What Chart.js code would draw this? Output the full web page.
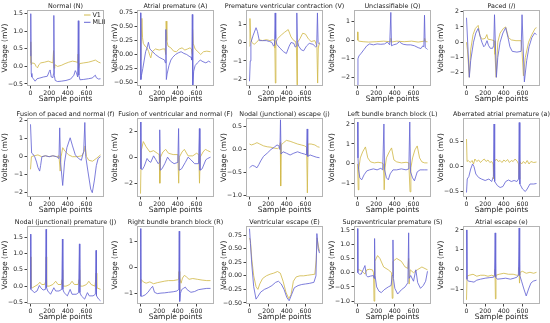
<!DOCTYPE html>
<html>
<head>
<meta charset="utf-8">
<script src="https://cdn.jsdelivr.net/npm/chart.js@4.4.1/dist/chart.umd.min.js"></script>
<style>
html, body { margin: 0; padding: 0; background: #fff; overflow: hidden; }
#wrap { position: relative; width: 550px; height: 323px; }
canvas { position: absolute; }
</style>
</head>
<body>
<div id="wrap"></div>
<script>
// ECG beat classes, one panel each
const titles = ['Normal (N)', 'Atrial premature (A)', 'Premature ventricular contraction (V)', 'Unclassifiable (Q)', 'Paced (/)',
  'Fusion of paced and normal (f)', 'Fusion of ventricular and normal (F)', 'Nodal (junctional) escape (j)', 'Left bundle branch block (L)', 'Aberrated atrial premature (a)',
  'Nodal (junctional) premature (J)', 'Right bundle branch block (R)', 'Ventricular escape (E)', 'Supraventricular premature (S)', 'Atrial escape (e)'];

const seriesNames = ['V1', 'MLII'];
const xTicks = [0, 200, 400, 600];
const yTicks = [[-0.5, 0, 0.5, 1, 1.5], [-0.5, -0.25, 0, 0.25, 0.5, 0.75], [-2, -1, 0, 1], [-2, -1, 0, 1], [-2, -1, 0, 1, 2],
  [-2, -1, 0, 1, 2], [-2, 0, 2], [-1, -0.5, 0, 0.5], [-1, 0, 1, 2], [-0.5, 0, 0.5],
  [-0.5, 0, 0.5, 1, 1.5], [-1, 0, 1], [-0.5, -0.25, 0, 0.25, 0.5, 0.75], [-1, -0.5, 0, 0.5, 1, 1.5], [-1, 0, 1, 2]];
const yDecimals = [1, 2, 0, 0, 0, 0, 0, 1, 0, 1, 1, 0, 2, 1, 0];
const yMin = [-0.557, -0.566, -2.36, -2.47, -2.87, -2.24, -3.06, -1.04, -1.66, -0.61, -0.55, -1.4, -0.52, -1.1, -1.76];
const yMax = [1.605, 0.80, 1.76, 1.63, 2.11, 2.15, 3.01, 0.69, 2.3, 0.97, 1.85, 1.6, 0.92, 1.64, 2.2];

// [sample, mV] pairs
const nV1 = [[0,0.1],[3,0.7],[8,0.05],[20,0.1],[45,0.08],[60,0.0],[75,-0.04],[90,0.05],[110,0.1],[150,0.12],[190,0.15],[220,0.12],[240,0.1],[247,0.45],[252,-0.05],[260,0.05],[290,0.0],[330,0.03],[370,0.08],[410,0.12],[450,0.15],[490,0.13],[505,0.1],[510,0.35],[515,-0.05],[525,0.08],[570,0.1],[620,0.12],[660,0.15],[695,0.18],[730,0.12],[750,0.1]];
const nML = [[0,0.3],[3,1.5],[8,-0.2],[15,-0.3],[30,-0.35],[50,-0.42],[70,-0.35],[100,-0.33],[140,-0.3],[180,-0.28],[200,-0.15],[210,-0.1],[222,-0.3],[240,-0.32],[247,-0.2],[250,1.45],[255,-0.25],[265,-0.4],[290,-0.43],[330,-0.42],[380,-0.4],[430,-0.36],[465,-0.25],[480,-0.12],[492,-0.18],[505,-0.3],[512,1.3],[518,-0.25],[530,-0.38],[570,-0.37],[620,-0.35],[660,-0.33],[695,-0.25],[705,-0.32],[730,-0.36],[750,-0.35]];

const aV1 = [[0,-0.1],[5,0.1],[15,0.65],[22,0.3],[30,0.2],[50,0.15],[70,0.12],[88,0.05],[100,-0.02],[110,-0.06],[125,0.05],[160,0.1],[200,0.08],[240,0.1],[262,0.1],[270,0.0],[275,0.6],[282,0.25],[295,0.15],[325,0.12],[355,0.06],[385,0.05],[415,0.1],[445,0.12],[475,0.08],[505,0.1],[530,0.12],[546,0.1],[553,0.0],[558,0.45],[565,0.2],[585,0.1],[615,0.05],[645,0.0],[675,0.05],[710,0.06],[750,0.05]];
const aML = [[0,0.75],[4,-0.45],[10,-0.38],[25,-0.25],[40,-0.1],[55,0.05],[70,0.12],[85,0.22],[100,0.1],[130,0.05],[160,0.0],[200,-0.05],[235,-0.08],[258,-0.1],[266,-0.15],[272,0.45],[277,-0.45],[285,-0.35],[305,-0.2],[325,-0.1],[345,-0.05],[375,0.0],[405,0.03],[435,0.05],[465,0.02],[495,0.0],[520,-0.03],[542,-0.05],[550,-0.1],[555,0.72],[560,-0.55],[570,-0.3],[585,-0.2],[610,-0.15],[640,-0.1],[670,-0.13],[700,-0.15],[730,-0.12],[750,-0.14]];

const vV1 = [[0,-0.2],[5,1.3],[12,0.3],[25,0.0],[50,-0.1],[75,0.0],[100,0.15],[140,0.1],[180,0.15],[220,0.1],[250,0.15],[268,0.1],[272,-0.3],[277,-2.2],[283,0.0],[300,0.2],[340,0.4],[375,0.55],[415,0.7],[445,0.3],[475,0.1],[495,0.05],[503,-0.3],[509,-2.3],[514,0.0],[540,0.2],[570,0.5],[600,0.45],[630,0.2],[660,0.05],[700,0.1],[722,-0.2],[730,-2.2],[737,-0.3],[750,0.0]];
const vML = [[0,-2.1],[8,-1.0],[15,0.0],[40,0.4],[70,0.8],[85,0.6],[105,0.1],[140,0.1],[180,0.1],[215,0.05],[240,0.0],[258,-0.2],[268,-0.15],[275,1.6],[281,0.2],[292,-0.1],[325,-0.3],[365,-0.5],[395,-0.6],[425,-0.2],[445,0.0],[475,-0.05],[490,-0.25],[500,-0.2],[507,1.6],[513,0.1],[527,-0.2],[555,-0.4],[580,-0.45],[610,-0.2],[640,-0.05],[680,-0.1],[710,-0.25],[720,-0.2],[728,1.6],[735,0.0],[750,-0.1]];

const qV1 = [[0,0.45],[4,0.0],[15,-0.05],[60,-0.08],[120,-0.1],[200,-0.08],[280,-0.05],[350,-0.08],[358,0.1],[364,-0.1],[420,-0.05],[500,-0.08],[580,-0.05],[650,-0.1],[716,-0.05],[720,0.1],[726,-0.08],[750,-0.08]];
const qML = [[0,-2.5],[5,-1.0],[15,-0.85],[40,-0.7],[70,-0.5],[100,-0.3],[130,-0.2],[170,-0.25],[210,-0.2],[250,-0.22],[290,-0.2],[320,-0.1],[345,-0.25],[357,1.5],[364,-0.3],[385,-0.25],[420,-0.2],[450,-0.08],[465,-0.15],[490,-0.22],[530,-0.25],[570,-0.25],[610,-0.3],[650,-0.4],[680,-0.45],[700,-0.3],[711,-0.35],[718,1.35],[726,-0.4],[740,-0.45],[750,-0.5]];

const pV1 = [[0,0.0],[10,-0.5],[30,-2.3],[45,-0.5],[70,0.5],[95,0.9],[125,1.1],[145,0.4],[170,0.2],[200,0.25],[218,0.5],[230,0.2],[270,0.15],[295,0.1],[305,-0.8],[318,-2.3],[335,0.0],[360,0.6],[395,0.9],[420,1.0],[450,0.3],[480,0.15],[530,0.1],[585,0.1],[595,-0.6],[610,-2.2],[630,-1.0],[665,0.0],[700,0.5],[735,0.9],[750,0.95]];
const pML = [[0,1.6],[30,-2.3],[45,-1.2],[75,0.0],[100,0.6],[125,0.9],[150,0.3],[165,0.0],[185,-0.3],[200,-0.2],[220,0.1],[235,-0.2],[255,-0.4],[280,-0.4],[292,-0.2],[300,1.8],[320,-2.3],[335,-1.0],[360,0.0],[390,0.6],[420,0.95],[445,0.3],[465,-0.3],[490,-0.6],[540,-0.65],[585,-0.6],[595,1.8],[620,-2.6],[645,-1.2],[670,-0.3],[700,0.3],[730,0.6],[750,0.5]];

const fV1 = [[0,-0.7],[10,0.0],[40,0.05],[80,0.1],[120,0.0],[160,0.05],[200,0.0],[240,0.05],[280,0.0],[305,0.05],[318,-0.8],[328,0.0],[345,0.5],[370,0.3],[410,0.1],[450,0.0],[500,0.0],[550,0.05],[575,0.3],[585,0.6],[600,0.0],[625,-0.2],[665,-0.25],[705,-0.1],[750,0.1]];
const fML = [[0,1.8],[12,0.2],[25,0.15],[45,0.0],[65,-0.3],[80,-0.6],[98,-0.8],[108,-0.5],[122,0.0],[160,0.05],[200,0.0],[240,0.05],[280,0.0],[305,-0.1],[313,1.6],[322,-0.3],[345,-1.6],[365,-0.3],[390,0.5],[425,1.05],[450,0.6],[480,0.1],[515,-0.1],[545,-0.2],[570,0.3],[582,1.9],[592,0.0],[615,-0.8],[645,-1.8],[662,-2.0],[685,-1.3],[705,-0.5],[725,-0.1],[750,0.0]];

const FV1 = [[0,-2.8],[8,0.5],[30,1.2],[60,0.8],[100,0.4],[140,0.5],[180,0.3],[200,0.2],[207,-2.0],[214,0.0],[240,0.4],[270,0.6],[300,0.3],[350,0.2],[400,0.2],[409,-2.0],[416,0.0],[445,0.4],[470,0.6],[510,0.1],[560,0.1],[600,0.3],[625,0.2],[632,-2.0],[640,0.0],[670,0.4],[695,0.6],[720,0.5],[750,0.4]];
const FML = [[0,2.7],[5,-0.9],[20,-0.95],[40,-0.7],[70,-0.1],[90,-0.3],[110,-0.4],[140,0.1],[165,-0.2],[190,-0.5],[200,-0.4],[206,2.1],[212,-1.0],[230,-0.9],[260,-0.5],[290,0.0],[320,-0.3],[360,-0.5],[400,-0.4],[408,2.2],[414,-1.0],[440,-0.9],[480,-0.4],[510,0.0],[540,-0.2],[580,-0.5],[622,-0.5],[631,2.2],[637,-1.0],[660,-0.9],[700,-0.2],[720,-0.1],[750,0.0]];

const jV1 = [[0,0.12],[20,0.1],[50,0.12],[80,0.15],[110,0.12],[150,0.08],[190,0.06],[230,0.05],[265,0.03],[300,0.02],[322,0.05],[330,0.15],[334,-0.8],[340,0.1],[365,0.15],[395,0.2],[435,0.18],[475,0.15],[515,0.12],[555,0.1],[590,0.08],[612,0.05],[620,-0.95],[627,0.12],[660,0.12],[700,0.1],[730,0.06],[750,0.05]];
const jML = [[0,-0.4],[10,-0.38],[30,-0.35],[50,-0.36],[80,-0.4],[100,-0.33],[120,-0.25],[150,-0.15],[190,-0.08],[230,0.0],[265,0.05],[295,0.1],[315,0.08],[326,0.0],[332,0.65],[338,-0.1],[360,-0.05],[395,-0.08],[435,-0.12],[475,-0.08],[515,-0.05],[555,-0.08],[590,-0.1],[610,-0.12],[618,0.45],[624,-0.15],[650,-0.12],[690,-0.15],[720,-0.17],[750,-0.18]];

const LV1 = [[0,0.0],[8,-1.3],[15,-0.2],[30,0.3],[55,0.6],[85,0.85],[110,0.3],[140,0.1],[180,0.05],[220,0.08],[260,0.05],[278,0.0],[286,-1.3],[295,-0.2],[310,0.3],[340,0.6],[365,0.8],[390,0.2],[420,0.1],[470,0.05],[520,0.08],[550,0.05],[563,-1.4],[572,-0.2],[590,0.3],[615,0.7],[640,0.9],[665,0.3],[690,0.1],[720,0.05],[750,0.05]];
const LML = [[0,2.1],[5,0.3],[12,-0.3],[25,-0.7],[45,-0.8],[70,-0.55],[100,-0.35],[130,-0.3],[170,-0.25],[210,-0.3],[250,-0.22],[270,-0.3],[283,2.0],[290,-0.3],[310,-0.7],[330,-0.8],[350,-0.5],[380,-0.3],[420,-0.3],[470,-0.25],[520,-0.3],[550,-0.25],[560,2.1],[568,-0.4],[590,-0.7],[610,-0.85],[640,-0.4],[670,-0.3],[720,-0.3],[750,-0.3]];

const abV1 = [[0,0.55],[6,0.1],[20,0.12],[40,0.08],[60,0.12],[75,0.05],[90,0.15],[110,0.1],[130,0.13],[150,0.08],[170,0.12],[190,0.15],[210,0.1],[230,0.13],[250,0.08],[270,0.1],[285,0.05],[292,-0.25],[300,0.1],[320,0.15],[340,0.1],[360,0.12],[380,0.08],[400,0.13],[420,0.1],[440,0.14],[460,0.08],[480,0.12],[500,0.1],[520,0.15],[545,0.1],[558,0.05],[563,-0.25],[572,0.1],[590,0.05],[610,0.1],[630,0.06],[650,0.12],[670,0.05],[690,0.1],[720,0.08],[750,0.09]];
const abML = [[0,-0.52],[8,-0.25],[25,-0.2],[45,-0.05],[65,0.05],[80,0.0],[100,-0.15],[130,-0.22],[160,-0.25],[200,-0.28],[240,-0.25],[270,-0.3],[288,-0.2],[295,0.85],[302,-0.3],[330,-0.38],[360,-0.42],[390,-0.4],[420,-0.3],[450,-0.27],[480,-0.3],[510,-0.28],[540,-0.3],[558,-0.25],[565,0.88],[572,-0.35],[600,-0.45],[630,-0.5],[650,-0.45],[680,-0.35],[720,-0.35],[750,-0.34]];

const JV1 = [[0,0.9],[5,-0.05],[20,-0.05],[50,0.0],[80,0.05],[100,0.12],[120,0.05],[150,0.05],[164,0.15],[168,0.9],[173,0.0],[200,0.0],[240,0.05],[270,0.15],[295,0.05],[330,0.05],[339,0.2],[343,0.5],[348,0.0],[380,0.0],[420,0.05],[445,0.15],[470,0.05],[510,0.05],[521,0.2],[525,0.5],[530,0.0],[560,0.0],[600,0.05],[625,0.15],[650,0.05],[690,0.0],[699,0.2],[703,0.4],[710,-0.05],[750,-0.1]];
const JML = [[0,1.6],[4,-0.1],[15,-0.12],[40,-0.2],[70,-0.15],[95,0.02],[110,-0.05],[135,-0.12],[160,-0.1],[167,1.75],[172,-0.05],[185,-0.15],[215,-0.25],[250,-0.05],[270,-0.15],[305,-0.15],[335,-0.1],[342,1.45],[347,-0.1],[360,-0.2],[395,-0.3],[425,-0.1],[445,-0.25],[490,-0.25],[515,-0.2],[524,1.3],[529,-0.2],[545,-0.3],[580,-0.4],[610,-0.2],[630,-0.3],[670,-0.3],[695,-0.25],[702,1.1],[707,-0.3],[730,-0.4],[750,-0.45]];

const RV1 = [[0,-0.6],[5,-0.45],[30,-0.55],[60,-0.6],[100,-0.55],[140,-0.62],[180,-0.58],[220,-0.55],[260,-0.52],[300,-0.5],[350,-0.5],[395,-0.47],[408,-0.45],[413,-0.15],[418,-0.9],[423,-0.4],[435,-0.6],[450,-0.4],[470,-0.3],[490,-0.35],[520,-0.45],[560,-0.42],[610,-0.45],[660,-0.48],[710,-0.5],[750,-0.5]];
const RML = [[0,1.5],[4,-1.1],[20,-1.1],[50,-1.05],[80,-0.95],[110,-0.8],[130,-0.72],[150,-0.95],[180,-1.0],[220,-0.98],[260,-0.97],[300,-0.95],[350,-0.93],[390,-0.9],[405,-0.85],[410,-0.6],[415,1.4],[420,-1.3],[427,-1.0],[440,-0.85],[460,-0.8],[480,-0.75],[500,-0.85],[540,-0.95],[580,-0.92],[620,-0.85],[670,-0.82],[710,-0.8],[750,-0.8]];

const EV1 = [[0,0.7],[10,0.65],[25,0.3],[45,0.0],[70,-0.2],[90,-0.25],[110,-0.15],[140,-0.05],[180,0.0],[220,0.03],[260,0.05],[300,0.08],[330,0.05],[360,-0.1],[390,-0.3],[420,-0.42],[445,-0.35],[470,-0.1],[500,-0.02],[540,0.0],[580,0.0],[620,0.01],[660,0.02],[700,0.03],[715,0.3],[724,0.7],[738,0.55],[750,0.45]];
const EML = [[0,0.87],[10,0.6],[25,0.2],[45,-0.2],[70,-0.43],[90,-0.38],[120,-0.3],[160,-0.25],[200,-0.22],[240,-0.18],[280,-0.12],[310,-0.1],[340,-0.15],[370,-0.25],[400,-0.4],[425,-0.46],[450,-0.35],[480,-0.22],[520,-0.18],[560,-0.16],[600,-0.15],[640,-0.14],[690,-0.12],[712,0.0],[722,0.78],[736,0.5],[750,0.42]];

const SV1 = [[0,0.1],[20,0.1],[50,0.05],[80,-0.05],[100,0.1],[130,0.12],[160,0.1],[172,0.0],[177,-1.0],[185,0.4],[215,0.6],[240,0.5],[280,0.2],[330,0.1],[365,0.0],[372,-0.9],[380,0.4],[420,0.5],[470,0.4],[510,0.2],[540,0.15],[548,0.5],[553,-0.4],[565,0.1],[600,0.0],[640,0.1],[690,0.2],[750,0.1]];
const SML = [[0,1.55],[4,0.0],[20,-0.05],[40,-0.05],[60,0.1],[80,0.25],[95,-0.1],[110,-0.15],[140,-0.12],[170,-0.1],[178,-0.2],[183,1.2],[188,-0.1],[205,-0.5],[230,-0.65],[255,-0.7],[285,-0.6],[330,-0.5],[360,-0.45],[372,-0.1],[380,1.15],[385,-0.2],[400,-0.55],[430,-0.75],[470,-0.6],[510,-0.5],[540,-0.35],[548,1.4],[553,-0.2],[570,-0.1],[600,-0.3],[625,0.1],[645,-0.35],[675,-0.55],[705,-0.45],[730,-0.3],[750,0.05]];

const eV1 = [[0,-1.55],[6,-0.35],[30,-0.3],[70,-0.25],[110,-0.35],[150,-0.3],[190,-0.3],[230,-0.35],[270,-0.3],[300,-0.35],[305,0.0],[310,-1.5],[316,-0.3],[350,-0.25],[400,-0.2],[450,-0.25],[500,-0.25],[540,-0.3],[558,-0.3],[562,0.1],[568,-0.7],[575,-0.15],[600,-0.1],[640,-0.2],[680,-0.15],[720,-0.2],[750,-0.15]];
const eML = [[0,2.0],[5,-0.5],[20,-0.6],[50,-0.62],[80,-0.65],[110,-0.55],[150,-0.5],[200,-0.45],[250,-0.42],[290,-0.4],[300,-0.3],[307,1.85],[313,-0.4],[330,-0.5],[370,-0.48],[420,-0.45],[470,-0.5],[510,-0.45],[540,-0.4],[556,-0.3],[564,2.1],[570,-0.3],[590,-0.6],[615,-1.0],[640,-1.35],[665,-1.0],[690,-0.7],[715,-0.6],[750,-0.55]];

const v1Series = [nV1, aV1, vV1, qV1, pV1, fV1, FV1, jV1, LV1, abV1, JV1, RV1, EV1, SV1, eV1];
const mlSeries = [nML, aML, vML, qML, pML, fML, FML, jML, LML, abML, JML, RML, EML, SML, eML];

// layout of the 5x3 grid (plot-area edges in page pixels)
const colLeft = [27, 137, 246, 354, 463];
const rowTop = [10, 118, 226];
const rowBottom = [86, 197, 304];
const plotW = 77;
const side = 32, topPad = 12, botPad = 22;
const FONT = '"DejaVu Sans", sans-serif';
const colV1 = '#d2bb4e';
const colML = '#6666d4';

const panelDeco = {
  id: 'panelDeco',
  afterDraw(chart, args, opts) {
    const a = chart.chartArea, ctx = chart.ctx;
    ctx.save();
    ctx.strokeStyle = '#b4b4b4';
    ctx.lineWidth = 1;
    ctx.strokeRect(Math.round(a.left) + 0.5, Math.round(a.top) + 0.5, Math.round(a.right - a.left) - 1, Math.round(a.bottom - a.top) - 1);
    ctx.fillStyle = '#222';
    ctx.font = '6.4px ' + FONT;
    ctx.textAlign = 'center';
    ctx.textBaseline = 'alphabetic';
    ctx.fillText(opts.title, (a.left + a.right) / 2, a.top - 2.5);
    if (opts.legend) {
      ctx.textAlign = 'left';
      ctx.textBaseline = 'middle';
      chart.data.datasets.forEach((ds, k) => {
        const y = a.top + 5 + k * 7.3;
        ctx.strokeStyle = ds.borderColor;
        ctx.beginPath();
        ctx.moveTo(a.right - 20, y);
        ctx.lineTo(a.right - 13.5, y);
        ctx.stroke();
        ctx.fillText(ds.label, a.right - 11.5, y);
      });
    }
    ctx.restore();
  }
};

const wrap = document.getElementById('wrap');
for (let i = 0; i < 15; i++) {
  const r = Math.floor(i / 5), c = i % 5;
  const H = rowBottom[r] - rowTop[r];
  const cw = plotW + 2 * side, ch = H + topPad + botPad;
  const cv = document.createElement('canvas');
  cv.width = cw; cv.height = ch;
  cv.style.left = (colLeft[c] - side) + 'px';
  cv.style.top = (rowTop[r] - topPad) + 'px';
  cv.style.width = cw + 'px';
  cv.style.height = ch + 'px';
  wrap.appendChild(cv);

  const dec = yDecimals[i];
  new Chart(cv, {
    type: 'line',
    data: {
      datasets: [
        { label: seriesNames[0], data: v1Series[i], borderColor: colV1, borderWidth: 0.85, pointRadius: 0, tension: 0, order: 1 },
        { label: seriesNames[1], data: mlSeries[i], borderColor: colML, borderWidth: 0.85, pointRadius: 0, tension: 0, order: 0 }
      ]
    },
    options: {
      responsive: false,
      animation: false,
      events: [],
      layout: { padding: { left: side - 26, right: side, top: topPad, bottom: 0 } },
      plugins: {
        legend: { display: false },
        tooltip: { enabled: false },
        panelDeco: { title: titles[i], legend: i === 0 }
      },
      scales: {
        x: {
          type: 'linear', min: -37.5, max: 787.5,
          afterBuildTicks: s => { s.ticks = xTicks.map(v => ({ value: v })); },
          afterFit: s => { s.height = botPad; },
          grid: { drawOnChartArea: false, drawTicks: true, tickLength: 2.5, color: '#444' },
          border: { display: false },
          ticks: { font: { family: FONT, size: 6.2 }, color: '#222', padding: 1.5, maxRotation: 0, autoSkip: false },
          title: { display: true, text: 'Sample points', font: { family: FONT, size: 7.5 }, color: '#222', padding: { top: 0, bottom: 4 } }
        },
        y: {
          type: 'linear', min: yMin[i], max: yMax[i],
          afterBuildTicks: s => { s.ticks = yTicks[i].map(v => ({ value: v })); },
          afterFit: s => { s.width = 26; },
          grid: { drawOnChartArea: false, drawTicks: true, tickLength: 2.5, color: '#444' },
          border: { display: false },
          ticks: {
            font: { family: FONT, size: 6.2 }, color: '#222', padding: 1.5, autoSkip: false,
            callback: v => v.toFixed(dec).replace('-', '\u2212')
          },
          title: { display: true, text: 'Voltage (mV)', font: { family: FONT, size: 7.5 }, color: '#222', padding: { top: 0, bottom: 0 } }
        }
      }
    },
    plugins: [panelDeco]
  });
}
</script>
</body>
</html>
